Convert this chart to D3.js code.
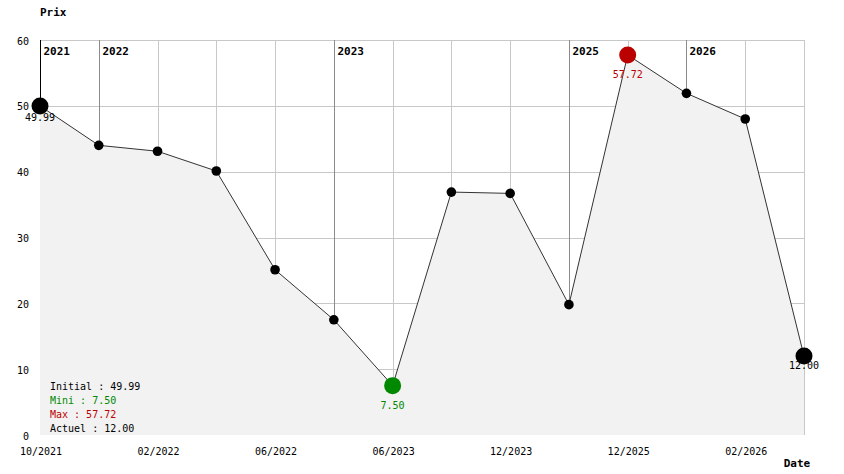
<!DOCTYPE html>
<html>
<head>
<meta charset="utf-8">
<script src="https://cdn.jsdelivr.net/npm/d3@7"></script>
<style>
  body { margin: 0; background: #fff; }
  svg { display: block; font-family: "DejaVu Sans Mono", "Liberation Mono", monospace; }
  .tick-lbl { font-size: 10px; fill: #000; }
  .bold { font-size: 11px; font-weight: bold; fill: #000; }
</style>
</head>
<body>
<svg class="chart" width="844" height="474"></svg>
<script>
// data
const dates = ["10/2021", "01/2022", "02/2022", "04/2022", "06/2022", "01/2023", "06/2023",
               "09/2023", "12/2023", "01/2025", "12/2025", "01/2026", "02/2026", "05/2026"];
const prices = [49.99, 44.0, 43.1, 40.1, 25.1, 17.5, 7.50, 36.9, 36.7, 19.8, 57.72, 51.9, 48.0, 12.00];
const yTicks = [0, 10, 20, 30, 40, 50, 60];
const yMax = 60;

//layout
var margin = {top: 40, right: 40, bottom: 39, left: 40};
var width = 844 - margin.left - margin.right;
var height = 474 - margin.top - margin.bottom;

var green = "#008800";
var red = "#bb0000";

var chart = d3.select(".chart");
var g = chart.append("g").attr("transform", "translate(" + margin.left + "," + margin.top + ")");

//scales
var x = d3.scalePoint().domain(dates).range([0, width]);
var y = d3.scaleLinear().domain([0, yMax]).range([height, 0]);
var px = function (v) { return Math.round(v) + 0.5; };

var minI = prices.indexOf(d3.min(prices));
var maxI = prices.indexOf(d3.max(prices));
var lastI = prices.length - 1;

//horizontal grid
g.selectAll(".hgrid").data(yTicks.filter(function (d) { return d > 0; }))
  .enter().append("line")
  .attr("x1", 0).attr("x2", width)
  .attr("y1", function (d) { return px(y(d)); })
  .attr("y2", function (d) { return px(y(d)); })
  .attr("stroke", "#c8c8c8");

//vertical grid (one per point), darker at year changes
g.selectAll(".vgrid").data(dates)
  .enter().append("line")
  .attr("x1", function (d) { return px(x(d)); })
  .attr("x2", function (d) { return px(x(d)); })
  .attr("y1", 0).attr("y2", height)
  .attr("stroke", function (d, i) {
    if (i === 0) return "#000";
    return d.slice(3) !== dates[i - 1].slice(3) ? "#8c8c8c" : "#c8c8c8";
  });

//area under the line
var area = d3.area()
  .x(function (d, i) { return x(dates[i]); })
  .y0(height)
  .y1(function (d) { return y(d); });
g.append("path").datum(prices).attr("d", area).attr("fill", "#f2f2f2");

var line = d3.line()
  .x(function (d, i) { return x(dates[i]); })
  .y(function (d) { return y(d); });
g.append("path").datum(prices).attr("d", line)
  .attr("fill", "none").attr("stroke", "#333").attr("stroke-width", 1);

//year labels
dates.forEach(function (d, i) {
  if (i === 0 || d.slice(3) !== dates[i - 1].slice(3)) {
    g.append("text").attr("class", "bold")
      .attr("x", px(x(d)) + 3).attr("y", 15)
      .text(d.slice(3));
  }
});

//points
g.selectAll(".pt").data(prices)
  .enter().append("circle")
  .attr("cx", function (d, i) { return x(dates[i]); })
  .attr("cy", function (d) { return y(d); })
  .attr("r", function (d, i) { return (i === 0 || i === lastI || i === minI || i === maxI) ? 8.5 : 4.8; })
  .attr("fill", function (d, i) { return i === minI ? green : i === maxI ? red : "#000"; });

//value labels under special points
[[0, "#000", 15], [lastI, "#000", 13], [minI, green, 23], [maxI, red, 23]].forEach(function (s) {
  g.append("text").attr("class", "tick-lbl")
    .attr("x", x(dates[s[0]])).attr("y", y(prices[s[0]]) + s[2])
    .attr("text-anchor", "middle")
    .style("fill", s[1])
    .text(prices[s[0]].toFixed(2));
});

//y tick labels
g.selectAll(".ylbl").data(yTicks)
  .enter().append("text").attr("class", "tick-lbl")
  .attr("x", -11)
  .attr("y", function (d) { return y(d) + 4.5; })
  .attr("text-anchor", "end")
  .text(function (d) { return d; });

//x tick labels (every second date)
g.selectAll(".xlbl").data(dates.filter(function (d, i) { return i % 2 === 0; }))
  .enter().append("text").attr("class", "tick-lbl")
  .attr("x", function (d) { return x(d) + 1; })
  .attr("y", height + 20)
  .attr("text-anchor", "middle")
  .text(function (d) { return d; });

//axis titles
chart.append("text").attr("class", "bold").attr("x", 40).attr("y", 16).text("Prix");
chart.append("text").attr("class", "bold").attr("x", 797).attr("y", 467)
  .attr("text-anchor", "middle").text("Date");

//summary legend
var summary = [
  {label: "Initial : " + prices[0].toFixed(2), color: "#000"},
  {label: "Mini : " + prices[minI].toFixed(2), color: green},
  {label: "Max : " + prices[maxI].toFixed(2), color: red},
  {label: "Actuel : " + prices[lastI].toFixed(2), color: "#000"}
];
chart.selectAll(".sum").data(summary)
  .enter().append("text").attr("class", "tick-lbl")
  .attr("x", 50)
  .attr("y", function (d, i) { return 390 + i * 14; })
  .style("fill", function (d) { return d.color; })
  .text(function (d) { return d.label; });
</script>
</body>
</html>
